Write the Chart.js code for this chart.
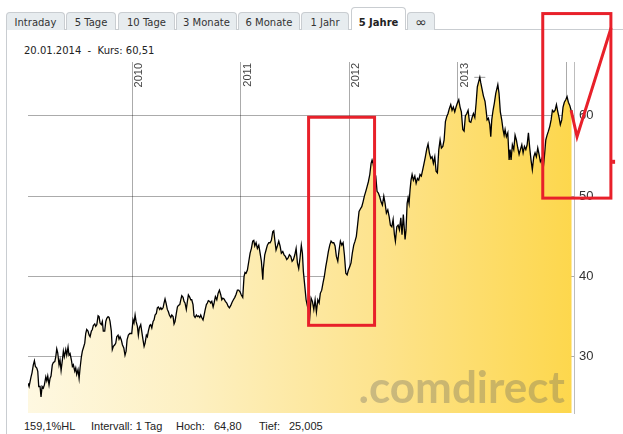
<!DOCTYPE html>
<html lang="de">
<head>
<meta charset="utf-8">
<title>5 Jahre</title>
<script src="https://cdn.jsdelivr.net/npm/chart.js@4.4.1/dist/chart.umd.min.js"></script>
<style>
  html, body { margin: 0; padding: 0; background: #fff; }
  #wrap { position: relative; width: 623px; height: 434px; overflow: hidden; font-family: "DejaVu Sans", Verdana, sans-serif; color: #222; }
  .tab { position: absolute; top: 12px; height: 18px; box-sizing: border-box; border: 1px solid #c9cdd1; border-bottom: none; border-radius: 4px 4px 0 0; background: #e7ecef; font-size: 10px; line-height: 20px; text-align: center; color: #333; white-space: nowrap; }
  .tab.active { top: 7px; height: 23px; background: #fff; font-weight: bold; line-height: 30px; z-index: 1; color: #222; }
  .tab.inf { font-size: 14px; line-height: 19px; }
  #tabline { position: absolute; left: 6px; right: 0; top: 29px; border-top: 1px solid #c9cdd1; }
  #panel { position: absolute; left: 6px; top: 29px; bottom: 0; border-left: 1px solid #c9cdd1; }
  #kopf { position: absolute; left: 24px; top: 45px; font-size: 10px; white-space: pre; }
  .fuss { position: absolute; top: 420px; font-family: "Liberation Sans", Arial, sans-serif; font-size: 11px; white-space: nowrap; }
  #chart { position: absolute; left: 0; top: 0; z-index: 2; }
</style>
</head>
<body>
<div id="wrap">
  <div id="tabline"></div>
  <div id="panel"></div>
  <div class="tab" style="left:6px;width:59px">Intraday</div>
  <div class="tab" style="left:66px;width:50px">5 Tage</div>
  <div class="tab" style="left:118px;width:57px">10 Tage</div>
  <div class="tab" style="left:176px;width:61px">3 Monate</div>
  <div class="tab" style="left:238px;width:62px">6 Monate</div>
  <div class="tab" style="left:301px;width:48px">1 Jahr</div>
  <div class="tab active" style="left:351px;width:55px">5 Jahre</div>
  <div class="tab inf" style="left:407px;width:28px">∞</div>

  <div id="kopf">20.01.2014  -  Kurs: 60,51</div>

  <div class="fuss" style="left:24px">159,1%HL</div>
  <div class="fuss" style="left:91px">Intervall: 1 Tag</div>
  <div class="fuss" style="left:176px">Hoch:</div>
  <div class="fuss" style="left:214px">64,80</div>
  <div class="fuss" style="left:259px">Tief:</div>
  <div class="fuss" style="left:289px">25,005</div>

  <canvas id="chart" width="623" height="434"></canvas>
</div>

<script>
// Jahreslinien + Beschriftung
const jahre = [2010, 2011, 2012, 2013, 2014];
const jahrLabels = ['2010', '2011', '2012', '2013'];
const yTicks = [30, 40, 50, 60];

// Tageskurse (Datum als Dezimaljahr)
const datum = [
    2009.041, 2009.051, 2009.060, 2009.069, 2009.078, 2009.090, 2009.100, 2009.109, 2009.122, 2009.131,
    2009.140, 2009.152, 2009.161, 2009.171, 2009.182, 2009.192, 2009.205, 2009.214, 2009.223, 2009.235,
    2009.244, 2009.253, 2009.265, 2009.275, 2009.288, 2009.297, 2009.306, 2009.315, 2009.327, 2009.336,
    2009.346, 2009.358, 2009.367, 2009.376, 2009.389, 2009.398, 2009.410, 2009.419, 2009.429, 2009.441,
    2009.450, 2009.459, 2009.472, 2009.481, 2009.490, 2009.502, 2009.512, 2009.521, 2009.533, 2009.542,
    2009.551, 2009.564, 2009.573, 2009.582, 2009.594, 2009.604, 2009.613, 2009.625, 2009.634, 2009.643,
    2009.656, 2009.665, 2009.675, 2009.687, 2009.696, 2009.705, 2009.717, 2009.726, 2009.735, 2009.748,
    2009.758, 2009.767, 2009.779, 2009.788, 2009.797, 2009.809, 2009.818, 2009.828, 2009.841, 2009.850,
    2009.859, 2009.871, 2009.880,
    2009.889, 2009.901, 2009.911, 2009.924, 2009.935, 2009.945, 2009.954, 2009.966, 2009.979, 2009.997,
    2010.009, 2010.018, 2010.028, 2010.037, 2010.049, 2010.058, 2010.067, 2010.080, 2010.089, 2010.101,
    2010.111, 2010.120, 2010.132, 2010.141, 2010.150, 2010.163, 2010.172, 2010.182, 2010.194, 2010.203,
    2010.212, 2010.224, 2010.233, 2010.242, 2010.255, 2010.265, 2010.274, 2010.286, 2010.295, 2010.304,
    2010.313, 2010.325, 2010.335, 2010.344, 2010.357, 2010.366, 2010.378, 2010.387, 2010.396, 2010.408,
    2010.418, 2010.427, 2010.440, 2010.449, 2010.458, 2010.470, 2010.479, 2010.488, 2010.500, 2010.510,
    2010.519, 2010.532, 2010.541, 2010.550, 2010.562, 2010.571, 2010.581, 2010.593, 2010.602, 2010.611,
    2010.624, 2010.633, 2010.642, 2010.654, 2010.664, 2010.673, 2010.685, 2010.694, 2010.703, 2010.716,
    2010.725, 2010.735, 2010.747, 2010.756,
    2010.768, 2010.781, 2010.793, 2010.805, 2010.818, 2010.827, 2010.836, 2010.848, 2010.860, 2010.873,
    2010.885, 2010.897, 2010.910, 2010.922, 2010.934, 2010.947, 2010.959, 2010.971, 2010.983, 2010.995,
    2011.007, 2011.020, 2011.032, 2011.041, 2011.051, 2011.063, 2011.076, 2011.088, 2011.100, 2011.112,
    2011.122, 2011.131, 2011.143, 2011.155, 2011.168, 2011.180, 2011.192, 2011.205, 2011.210, 2011.223,
    2011.235, 2011.247, 2011.260, 2011.272, 2011.284, 2011.297, 2011.306, 2011.315, 2011.327, 2011.339,
    2011.352, 2011.364, 2011.376, 2011.389, 2011.401, 2011.413, 2011.426, 2011.438, 2011.450, 2011.463,
    2011.475, 2011.487, 2011.500, 2011.512, 2011.524, 2011.536, 2011.548, 2011.560, 2011.570, 2011.579,
    2011.592,
    2011.604, 2011.616, 2011.625, 2011.638, 2011.650, 2011.662, 2011.675, 2011.687, 2011.699, 2011.712,
    2011.724, 2011.735, 2011.748, 2011.760, 2011.772, 2011.785, 2011.797, 2011.809, 2011.822, 2011.834,
    2011.846, 2011.859, 2011.871, 2011.883, 2011.896, 2011.908, 2011.920, 2011.933, 2011.945, 2011.957,
    2011.970, 2011.982, 2011.994, 2012.006, 2012.018, 2012.030, 2012.043, 2012.055, 2012.067, 2012.080,
    2012.092, 2012.104, 2012.117, 2012.129, 2012.141, 2012.154, 2012.166, 2012.178, 2012.191, 2012.203,
    2012.212, 2012.221, 2012.233, 2012.246, 2012.258, 2012.270, 2012.283, 2012.295, 2012.307, 2012.320,
    2012.332, 2012.344, 2012.357, 2012.369, 2012.381, 2012.394, 2012.406, 2012.418, 2012.427, 2012.440,
    2012.452, 2012.464, 2012.477, 2012.488, 2012.500,
    2012.516, 2012.525, 2012.535, 2012.544, 2012.553, 2012.562, 2012.571, 2012.581, 2012.593, 2012.606,
    2012.618, 2012.630, 2012.642, 2012.654, 2012.666, 2012.679, 2012.691, 2012.703, 2012.716, 2012.728,
    2012.740, 2012.753, 2012.765, 2012.777, 2012.790, 2012.802, 2012.814, 2012.827, 2012.839, 2012.851,
    2012.864, 2012.876, 2012.888, 2012.900, 2012.912, 2012.924, 2012.937, 2012.949, 2012.961, 2012.974,
    2012.986, 2012.998, 2013.011, 2013.023, 2013.035, 2013.048, 2013.060, 2013.072, 2013.085, 2013.097,
    2013.109, 2013.122, 2013.134, 2013.146, 2013.159, 2013.171, 2013.182, 2013.195, 2013.205, 2013.214,
    2013.226, 2013.238,
    2013.253, 2013.263, 2013.272, 2013.284, 2013.297, 2013.306, 2013.315, 2013.327, 2013.339, 2013.352,
    2013.371, 2013.382, 2013.394, 2013.407, 2013.419, 2013.429, 2013.438, 2013.450, 2013.463, 2013.475,
    2013.484, 2013.493, 2013.505, 2013.518, 2013.530, 2013.542, 2013.555, 2013.567, 2013.579, 2013.592,
    2013.604, 2013.616, 2013.629, 2013.641, 2013.653, 2013.665, 2013.677, 2013.689, 2013.702, 2013.714,
    2013.726, 2013.739, 2013.751, 2013.763, 2013.776, 2013.788, 2013.800, 2013.813, 2013.825, 2013.837,
    2013.850, 2013.862, 2013.874, 2013.887, 2013.899, 2013.911, 2013.924, 2013.935, 2013.947, 2013.960,
    2013.972, 2013.984, 2013.997, 2014.009, 2014.021, 2014.034, 2014.046, 2014.052
];

const kurs = [
    26.7, 26.3, 26.9, 27.5, 28.0, 29.0, 29.5, 28.8, 28.6, 28.2,
    26.3, 26.3, 25.0, 26.3, 26.1, 26.5, 27.5, 27.0, 27.6, 26.5,
    27.3, 27.6, 29.0, 29.3, 29.4, 30.0, 31.0, 30.5, 29.0, 29.6,
    28.3, 29.6, 30.7, 30.0, 30.9, 30.2, 31.2, 30.2, 30.4, 29.6,
    28.8, 29.0, 28.2, 28.6, 27.8, 28.4, 27.3, 28.6, 30.0, 30.7,
    31.1, 31.7, 32.9, 33.4, 33.2, 32.7, 32.5, 33.2, 33.4, 33.9,
    34.1, 33.8, 34.0, 35.1, 35.0, 34.2, 34.0, 34.4, 33.2, 33.2,
    34.4, 34.8, 35.0, 34.9, 34.4, 33.2, 30.9, 31.3, 31.5, 31.7,
    32.5, 32.7, 32.2,
    32.5, 32.1, 31.5, 31.1, 30.2, 30.7, 32.1, 32.7, 32.9, 32.9,
    34.6, 34.2, 35.2, 34.4, 33.8, 32.7, 33.6, 34.0, 33.2, 32.1,
    31.3, 31.7, 32.7, 32.5, 33.2, 33.9, 34.0, 33.6, 34.4, 34.6,
    35.2, 35.4, 36.1, 36.2, 35.9, 36.1, 35.9, 36.1, 36.7, 37.2,
    36.7, 35.9, 35.6, 35.2, 34.9, 35.2, 35.0, 34.1, 34.4, 35.4,
    36.2, 36.4, 36.5, 37.1, 37.6, 37.4, 36.9, 36.7, 35.9, 36.9,
    37.7, 37.4, 37.1, 37.1, 36.5, 35.1, 34.9, 35.2, 35.0, 35.1,
    34.9, 35.2, 34.9, 34.6, 35.2, 35.8, 36.5, 36.7, 37.0, 36.9,
    36.7, 36.9, 36.2, 36.7,
    37.5, 37.1, 37.9, 38.3, 37.7, 37.1, 37.3, 37.2, 36.9, 36.7,
    36.3, 36.1, 36.4, 36.8, 37.1, 37.4, 37.8, 38.3, 38.3, 38.1,
    37.7, 37.4, 40.0, 40.5, 40.4, 40.8, 41.9, 42.9, 43.5, 44.4,
    44.5, 43.8, 44.2, 43.5, 43.9, 42.9, 41.9, 39.6, 41.0, 42.7,
    43.3, 43.9, 44.2, 44.2, 44.5, 45.6, 45.7, 44.6, 43.3, 43.8,
    44.4, 43.8, 42.9, 43.1, 42.7, 42.5, 42.1, 42.3, 42.7, 42.5,
    41.9, 42.1, 42.7, 43.5, 41.7, 41.0, 42.3, 43.9, 42.9, 40.6,
    38.8,
    37.1, 36.3, 35.9, 35.0, 37.3, 36.9, 35.9, 37.1, 35.6, 37.1,
    36.7, 37.9, 38.3, 39.2, 40.0, 41.2, 42.1, 43.1, 43.9, 44.4,
    44.2, 44.2, 43.8, 42.5, 41.9, 43.3, 44.4, 43.9, 44.2, 42.7,
    40.4, 40.2, 40.8, 41.2, 41.7, 42.9, 43.9, 44.4, 45.0, 46.6,
    48.1, 48.4, 48.7, 49.3, 50.0, 50.6, 51.2, 51.8, 52.7, 54.1,
    54.5, 54.1, 53.1, 52.5, 50.6, 50.4, 49.9, 49.3, 48.9, 50.0,
    49.1, 47.9, 48.3, 47.5, 46.4, 46.2, 47.1, 45.2, 44.4, 46.2,
    46.4, 45.8, 47.3, 45.2, 47.7,
    44.6, 45.8, 49.1, 49.8, 49.1, 50.8, 52.0, 52.7, 52.0, 52.5,
    51.6, 52.2, 52.0, 52.7, 52.5, 53.3, 54.1, 54.9, 55.9, 56.5,
    55.4, 54.7, 54.9, 54.1, 54.9, 53.1, 52.9, 55.8, 57.0, 56.0,
    56.2, 57.0, 59.3, 59.9, 60.3, 60.9, 61.4, 60.7, 61.1, 60.5,
    61.1, 61.6, 62.0, 61.1, 60.5, 58.3, 58.1, 60.0, 60.3, 60.7,
    59.3, 59.2, 59.8, 60.3, 59.8, 61.6, 63.6, 64.3, 64.8, 64.1,
    63.3, 62.5,
    61.8, 60.7, 59.5, 59.7, 58.9, 57.4, 59.5, 60.7, 61.6, 62.8,
    63.9, 62.8, 60.5, 59.5, 58.3, 57.6, 58.3, 57.4, 57.9, 54.5,
    55.8, 54.5, 56.4, 55.8, 57.6, 57.0, 56.0, 55.2, 55.8, 56.4,
    55.4, 56.2, 55.8, 56.4, 57.9, 56.0, 54.5, 53.3, 54.9, 55.4,
    54.9, 56.0, 55.2, 54.3, 54.7, 53.3, 54.9, 57.0, 57.6, 58.1,
    58.7, 59.5, 60.7, 60.5, 60.7, 61.4, 60.5, 59.8, 58.9, 59.5,
    61.1, 61.7, 62.0, 62.4, 61.7, 61.3, 60.7, 60.51
];

// Hoch / Tief Markierungen
const extremDatum = [2009.161, 2013.205];
const extremKurs = [25.005, 64.80];

const gridColor = 'rgba(0, 0, 0, 0.33)';

// rote Handmarkierungen (in Achsenwerten)
const rahmen = [
    { x0: 2011.627, x1: 2012.235, y0: 59.83, y1: 33.92 },
    { x0: 2013.785, x1: 2014.413, y0: 72.74, y1: 49.76 }
];
const pfeil = [[2014.046, 60.7], [2014.101, 57.40], [2014.415, 70.97]];

const jahresLabels = {
    id: 'jahresLabels',
    afterDraw(chart) {
        const { ctx, chartArea } = chart;
        const x = chart.scales.x;
        ctx.save();
        ctx.font = '11px "Liberation Sans", Arial, sans-serif';
        ctx.fillStyle = '#444';
        ctx.textAlign = 'right';
        ctx.textBaseline = 'top';
        jahrLabels.forEach(j => {
            const px = x.getPixelForValue(Number(j));
            ctx.save();
            ctx.translate(px + 1.5, chartArea.top + 1);
            ctx.rotate(-Math.PI / 2);
            ctx.fillText(j, 0, 0);
            ctx.restore();
        });
        ctx.restore();
    }
};

const wasserzeichen = {
    id: 'wasserzeichen',
    afterDatasetsDraw(chart) {
        const { ctx } = chart;
        const x = chart.scales.x, y = chart.scales.y;
        ctx.save();
        ctx.font = 'bold 44px Lato, "DejaVu Sans", sans-serif';
        ctx.fillStyle = 'rgba(95, 95, 95, 0.32)';
        ctx.textAlign = 'right';
        ctx.textBaseline = 'alphabetic';
        ctx.fillText('.comdirect', x.getPixelForValue(2013.989), y.getPixelForValue(24.3));
        ctx.restore();
    }
};

const anmerkungen = {
    id: 'anmerkungen',
    afterDraw(chart) {
        const { ctx } = chart;
        const x = chart.scales.x, y = chart.scales.y;
        ctx.save();
        ctx.strokeStyle = '#e8202a';
        ctx.lineWidth = 3;
        ctx.lineJoin = 'miter';
        rahmen.forEach(r => {
            const l = x.getPixelForValue(r.x0), rr = x.getPixelForValue(r.x1);
            const t = y.getPixelForValue(r.y0), b = y.getPixelForValue(r.y1);
            ctx.strokeRect(l, t, rr - l, b - t);
        });
        ctx.beginPath();
        pfeil.forEach((p, i) => {
            const px = x.getPixelForValue(p[0]), py = y.getPixelForValue(p[1]);
            if (i === 0) ctx.moveTo(px, py); else ctx.lineTo(px, py);
        });
        ctx.stroke();
        // kleiner Strich rechts am Rahmen
        ctx.fillStyle = '#e8202a';
        ctx.fillRect(x.getPixelForValue(2014.424), y.getPixelForValue(54.53), 3, 4);
        ctx.restore();
    }
};

new Chart(document.getElementById('chart'), {
    type: 'line',
    data: {
        datasets: [{
            label: 'Kurs',
            data: datum.map((d, i) => ({ x: d, y: kurs[i] })),
            borderColor: '#000',
            borderWidth: 1.3,
            pointRadius: 0,
            tension: 0,
            fill: 'start',
            backgroundColor: (c) => {
                const a = c.chart.chartArea;
                if (!a) return 'transparent';
                const g = c.chart.ctx.createLinearGradient(a.left, 0, a.right, 0);
                g.addColorStop(0, '#fef8e1');
                g.addColorStop(0.3, '#fdf0c2');
                g.addColorStop(0.65, '#fde38c');
                g.addColorStop(1, '#fdd74c');
                return g;
            }
        }, {
            type: 'scatter',
            label: 'Hoch/Tief',
            data: extremDatum.map((d, i) => ({ x: d, y: extremKurs[i] })),
            pointStyle: 'line',
            pointRadius: 5.5,
            borderColor: '#9a9a9a',
            borderWidth: 1,
            showLine: false
        }]
    },
    options: {
        responsive: false,
        animation: false,
        events: [],
        layout: { padding: { left: 28, top: 62, right: 0, bottom: 21 } },
        plugins: {
            legend: { display: false },
            tooltip: { enabled: false }
        },
        scales: {
            x: {
                type: 'linear',
                min: 2009.041,
                max: 2014.073,
                position: 'bottom',
                z: 1,
                afterBuildTicks: s => { s.ticks = jahre.map(v => ({ value: v })); },
                ticks: { display: false },
                grid: { color: gridColor, drawTicks: false },
                border: { display: false },
                afterFit: s => { s.height = 0; }
            },
            y: {
                position: 'right',
                min: 23.0,
                max: 66.71,
                z: 1,
                afterBuildTicks: s => { s.ticks = yTicks.map(v => ({ value: v })); },
                ticks: {
                    color: '#333',
                    padding: 5,
                    font: { family: '"Liberation Sans", Arial, sans-serif', size: 13 }
                },
                grid: { color: gridColor, drawTicks: false },
                border: { display: true, color: '#bdbdbd' },
                afterFit: s => { s.width = 49; }
            }
        }
    },
    plugins: [wasserzeichen, jahresLabels, anmerkungen]
});
</script>
</body>
</html>
